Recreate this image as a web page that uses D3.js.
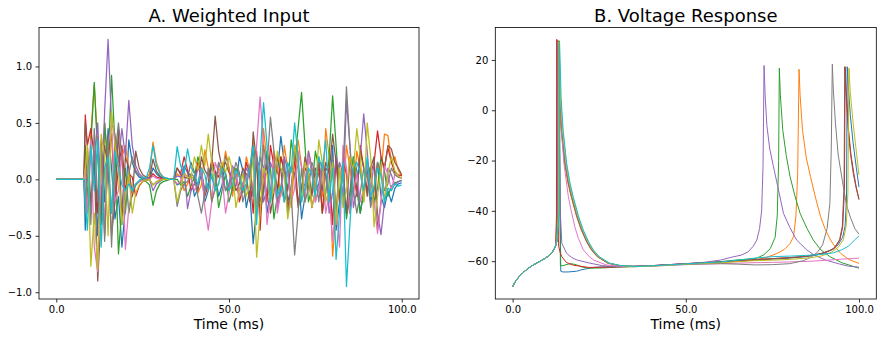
<!DOCTYPE html>
<html><head><meta charset="utf-8">
<script src="https://cdn.jsdelivr.net/npm/d3@7/dist/d3.min.js"></script>
<style>body{margin:0;background:#fff}svg{display:block;font-family:"DejaVu Sans",sans-serif}</style>
</head><body><svg id="c" width="882" height="341"></svg>
<script>
// ---------- DATA ----------
const seriesColors = ["#1f77b4","#ff7f0e","#2ca02c","#d62728","#9467bd","#8c564b","#e377c2","#7f7f7f","#bcbd22","#17becf"];
const titleA = "A. Weighted Input";
const titleB = "B. Voltage Response";
const xLabel = "Time (ms)";
const xTicks = [0, 50, 100];
const xTickLabels = ["0.0", "50.0", "100.0"];
const yTicksA = [-1.0, -0.5, 0.0, 0.5, 1.0];
const yTickLabelsA = ["\u22121.0", "\u22120.5", "0.0", "0.5", "1.0"];
const yTicksB = [-60, -40, -20, 0, 20];
const yTickLabelsB = ["\u221260", "\u221240", "\u221220", "0", "20"];

// Panel A: time grid (ms) and weighted input per series
const inputTime = [0,1,2,3,4,5,6,7,8,8.4,9,10,11,12,13,14,15,16,17,18,19,20,21,22,23,24,25,26,27,28,29,30,31,32,33,34,35,36,37,38,39,40,41,42,43,44,45,46,47,48,49,50,51,52,53,54,55,56,57,58,59,60,61,62,63,64,65,66,67,68,69,70,71,72,73,74,75,76,77,78,79,80,81,82,83,84,85,86,87,88,89,90,91,92,93,94,95,96,97,98,99,100];
const inputBlue = [0,0,0,0,0,0,0,0,0,-0.45,0.1, -0.3,0.25,-0.5,0.3,-0.2,0.45,0.1,-0.35,-0.15,-0.6, -0.25,0.35,0.15,0.06,0.02,0.01,0,0,0.1,0.05, 0.02,0.01,0,0,0,-0.05,-0.03,0.12,0.06,0.03, -0.15,-0.08,0.05,-0.2,-0.1,0.12,0.05,-0.15,-0.05,0.22, 0.1,-0.1,-0.05,0.2,0.08,-0.25,-0.1,-0.57,-0.25,0.2, 0.1,-0.3,-0.1,0.15,0.05,0.38,0.15,-0.2,-0.08,0.25, 0.1,-0.35,-0.15,0.2,0.08,-0.1,-0.04,0.15,0.05,-0.2, 0.3,-0.45,-0.2,0.1,-0.3,-0.12,0.2,0.08,-0.3,-0.1, 0.1,-0.2,-0.08,0.15,-0.15,-0.25,-0.1,-0.2,-0.08,-0.04,-0.03];
const inputOrange = [0,0,0,0,0,0,0,0,0,0.2,-0.3, 0.4,0.84,0.3,-0.4,0.5,0.1,-0.3,0.35,0.15,0.2, 0.3,0.1,-0.15,-0.05,-0.02,0,0,0.05,0.33,0.15, 0.06,0.02,0.01,0,0,0.05,0.02,-0.1,-0.04,0.02, 0.01,-0.12,-0.05,0.26,0.1,-0.2,-0.08,0.1,0.04,0.25, 0.1,-0.15,0.05,0.02,-0.1,0.2,0.08,0.35,-0.3,-0.1, 0.45,0.15,-0.2,0.25,0.1,-0.15,0.3,0.1,-0.25,0.15, 0.35,0.12,-0.2,0.25,0.1,-0.1,0.2,-0.15,0.45,0.2, -0.68,-0.3,0.1,-0.2,0.3,0.1,-0.15,0.25,0.1,-0.2, 0.15,0.05,-0.25,0.15,0.05,0.4,0.39,0.15,0.2,0.08,0.03];
const inputGreen = [0,0,0,0,0,0,0,0,0,0.3,-0.2, 0.3,0.86,0.2,-0.4,0.5,0.1,0.92,0.3,-0.66,-0.25, 0.1,-0.3,-0.12,-0.05,-0.02,0,-0.02,-0.05,-0.23,-0.1, -0.04,-0.02,-0.01,0,0,0,-0.05,-0.02,-0.15,-0.06, 0.02,0.2,0.08,-0.1,-0.04,0.15,0.05,-0.25,-0.1,0.05, -0.2,-0.08,0.1,0.04,-0.12,0.05,0.02,0.3,0.1,-0.3, -0.12,0.25,0.1,-0.35,-0.15,0.2,0.08,-0.1,0.35,0.15, 0.45,0.77,0.3,-0.2,-0.08,0.25,0.1,-0.3,-0.12,0.2, 0.74,0.3,-0.15,0.05,-0.35,-0.15,0.2,-0.1,-0.3,-0.12, 0.15,0.05,-0.2,-0.08,0.2,0.08,-0.15,-0.06,-0.03,-0.02,-0.01];
const inputRed = [0,0,0,0,0,0,0,0,0,0.57,0.3, 0.45,0.2,-0.3,0.35,-0.5,0.2,0.4,-0.2,0.1,0.3, -0.1,0.05,0.02,-0.15,-0.06,-0.02,-0.01,0,0.05,0.02, 0.01,0,0,0,0,0.1,0.05,0.2,0.08,-0.1, -0.04,0.15,0.06,-0.15,-0.05,0.18,0.07,0.02,0.12,0.05, -0.1,0.1,0.04,-0.2,-0.08,0.15,0.05,-0.3,0.25,-0.45, 0.1,-0.2,0.3,0.12,-0.1,0.2,0.08,-0.25,-0.1,0.2, -0.2,-0.08,0.1,0.04,-0.25,-0.1,0.15,-0.3,0.1,0.05, -0.4,0.2,-0.2,0.15,0.05,-0.3,0.1,-0.15,0.3,0.1, -0.1,0.05,0.15,0.43,0.2,0.1,0.28,0.15,0.06,0.04,0.03];
const inputPurple = [0,0,0,0,0,0,0,0,0,-0.2,0.15, -0.3,0.2,0.5,-0.2,0.6,1.24,0.5,0.4,0.15,0.45, 0.2,0.7,0.3,0.12,0.05,0.02,0.01,0,-0.1,-0.04, -0.02,0,0,0,0,0.03,0.02,0.1,-0.26,-0.1, -0.04,0.1,0.04,-0.1,-0.04,0.02,-0.08,0.15,0.06,-0.1, -0.04,0.12,0.05,-0.1,-0.04,0.1,0.04,-0.15,0.2,0.08, -0.2,-0.08,0.15,0.06,-0.25,-0.1,0.2,0.08,-0.15,0.3, 0.12,-0.1,-0.04,0.25,0.1,-0.2,-0.08,0.15,0.06,-0.3, -0.12,0.2,0.08,-0.15,0.7,0.3,-0.25,-0.1,0.2,0.58, 0.25,-0.1,0.15,-0.3,-0.49,-0.2,0.1,0.04,-0.05,-0.02,-0.01];
const inputBrown = [0,0,0,0,0,0,0,0,0,0.5,0.3, -0.2,0.15,-0.9,-0.3,0.3,0.1,-0.5,-0.2,0.45,-0.4, 0.2,0.1,-0.15,0.25,0.1,0.04,0.02,0.01,0.18,0.07, 0.03,0.01,0,0,0,0.1,0.04,0.02,0.01,0.15, 0.06,-0.1,0.2,0.08,0.03,0.15,0.56,0.25,0.1,0.15, 0.06,0.02,-0.1,-0.04,0.1,0.04,-0.2,0.42,0.15,-0.2, -0.08,0.15,-0.3,-0.12,0.2,0.08,-0.2,-0.08,0.12,0.05, -0.25,-0.1,0.2,0.08,-0.15,0.1,0.04,-0.1,0.15,0.06, 0.4,0.15,-0.2,0.1,-0.3,0.2,0.08,-0.1,0.25,0.1, -0.15,0.1,0.2,-0.45,-0.2,0.1,0.3,0.27,0.15,0.1,0.04];
const inputPink = [0,0,0,0,0,0,0,0,0,0.1,-0.3, 0.35,-0.6,-0.82,0.2,-0.4,0.3,0.5,-0.2,-0.1,0.25, -0.62,-0.25,-0.1,-0.04,-0.02,-0.01,0,0,0.03,0.01, 0,0,0,0,0,-0.04,-0.02,0.06,0.02,0.01, -0.1,-0.05,0.1,-0.25,-0.45,-0.2,0.15,0.06,0.02,-0.3, -0.12,0.1,0.04,-0.15,-0.06,0.02,0.1,-0.1,0.3,0.73, 0.3,-0.4,-0.15,0.2,-0.3,-0.12,0.1,0.04,-0.2,-0.08, 0.25,0.1,-0.15,0.2,0.08,-0.2,-0.08,0.1,-0.3,-0.12, -0.55,-0.2,-0.6,0.3,0.1,-0.3,-0.12,0.05,-0.2,-0.08, 0.15,-0.1,-0.2,-0.48,-0.2,0.12,0.05,-0.1,0.04,0.02,0.01];
const inputGray = [0,0,0,0,0,0,0,0,0,-0.3,0.2, -0.4,0.45,-0.2,0.3,-0.55,0.35,-0.6,0.2,0.5,0.2, -0.3,0.05,0.2,0.08,0.03,0.01,0,0,-0.05,-0.02, -0.01,0,0,0,0,-0.24,-0.1,-0.04,-0.02,0.05, 0.02,-0.15,-0.3,-0.12,0.1,-0.2,-0.08,0.15,0.06,-0.1, -0.04,0.02,0.15,0.06,-0.2,-0.08,0.12,-0.15,0.2,-0.1, 0.3,0.12,0.55,0.25,-0.2,-0.08,0.15,-0.3,-0.12,-0.67, -0.3,0.1,-0.2,-0.08,0.15,0.06,-0.2,0.1,0.04,-0.15, 0.2,-0.3,0.15,0.05,0.82,0.3,-0.1,-0.3,-0.12,0.1, 0.04,-0.25,-0.1,0.15,0.06,-0.1,-0.04,0.1,0.04,0.02,0.01];
const inputOlive = [0,0,0,0,0,0,0,0,0,0.1,0.3, -0.77,-0.3,-0.8,0.4,0.2,-0.5,0.6,0.3,0.1,-0.4, -0.15,0.05,-0.3,-0.12,-0.05,-0.02,-0.01,0,-0.05,-0.02, -0.01,0,0,0,0,-0.2,-0.08,0.05,0.02,0.01, 0.2,0.08,0.3,0.12,0.4,0.15,-0.1,-0.04,0.15,0.06, 0.2,0.08,-0.25,-0.1,0.05,-0.15,-0.06,0.2,-0.69,-0.3, 0.1,0.04,-0.2,-0.08,0.25,0.1,0.04,-0.35,-0.15,0.3, 0.12,-0.2,0.15,0.06,-0.25,-0.1,0.35,0.15,-0.2,-0.08, 0.15,-0.4,0.1,-0.25,-0.1,0.2,0.08,0.45,0.2,-0.2, 0.5,0.2,-0.42,-0.15,0.1,-0.2,0.05,0.2,0.08,0.03,0.01];
const inputCyan = [0,0,0,0,0,0,0,0,0,-0.2,-0.45, 0.3,-0.1,0.35,-0.6,0.1,0.2,-0.3,0.25,0.1,-0.05, -0.1,-0.04,-0.1,-0.04,-0.01,0.02,0.01,0.1,0.3,0.12, 0.05,0.02,0.01,0,0,0.29,0.12,0.05,0.27,0.11, 0.05,-0.05,0.1,0.04,-0.1,0.05,-0.1,-0.04,0.1,0.04, -0.1,-0.04,0.08,0.03,-0.1,-0.04,0.1,0.3,-0.4,0.2, 0.68,0.3,-0.2,0.1,-0.15,-0.06,-0.2,0.15,0.06,0.5, 0.2,-0.2,-0.08,0.1,0.04,-0.15,0.2,0.08,0.35,-0.2, 0.1,-0.71,-0.3,0.15,-0.95,-0.4,0.1,0.15,0.05,-0.1, 0.2,-0.15,-0.06,0.1,0.04,-0.2,-0.08,-0.1,-0.04,-0.06,-0.05];

// Panel B: shared rising phase (ms, mV)
const riseTime = [0,0.5,1,1.5,2,3,4,5,6,7,8,9,10,11,11.5,12,12.4];
const riseVolt = [-70.2,-68.8,-67.7,-66.8,-66,-64.6,-63.4,-62.4,-61.5,-60.7,-60,-59.2,-58.3,-57.1,-56.3,-55.2,-54];
// Panel B: per-neuron continuation as [time ms, voltage mV]
const voltBlue = [[12.8,-52],[13.2,-48],[13.35,-35],[13.45,27.5],[13.75,-40],[13.9,-64],[14.5,-64.3],[16,-64.3],[18.5,-64],[20,-63.4],[23.3,-62.5],[27,-62.2],[30,-62.2],[35,-62],[40,-61.8],[45,-61.4],[50,-61],[55,-60.7],[60,-60.4],[65,-60],[70,-59.6],[75,-59.2],[80,-58.8],[85,-58.2],[88,-57.5],[90,-56.8],[92,-55.5],[94,-53.5],[95.3,-50.5],[96,-46],[96.4,-35],[96.6,17.3],[96.9,10],[97.5,-2],[98.3,-13],[99.2,-22.5],[100,-30.5]];
const voltOrange = [[12.5,-51],[12.85,-40],[12.95,27.8],[13.15,18],[13.4,5],[14,-8],[15,-21],[15.9,-28.5],[16.9,-34.4],[18.4,-42],[19.8,-47.6],[21.4,-52.5],[22.7,-55.5],[24.4,-58.2],[27.4,-60.8],[30.5,-61.7],[35,-62.1],[40,-61.9],[45,-61.5],[50,-61.1],[55,-60.8],[60,-60.5],[65,-60.1],[70,-59.5],[73,-58.6],[76.3,-57],[78.5,-55.3],[80.1,-53],[81.1,-50.3],[81.8,-42],[82.3,-25],[82.7,16.3],[83,6],[83.7,-8],[84.8,-19],[86,-26.4],[87.5,-35],[88.9,-42.3],[90.3,-47.5],[91.8,-51.6],[93.2,-54.5],[94.7,-56.9],[97,-59.3],[100,-60.9]];
const voltGreen = [[12.8,-52],[13.2,-47],[13.3,-35],[13.35,27.7],[13.65,-40],[13.8,-61.8],[14.5,-61.8],[16,-61.2],[17,-61],[18.5,-61.5],[20,-62.3],[22,-62.8],[26,-62.7],[30,-62.4],[35,-62.2],[40,-61.9],[45,-61.5],[50,-61.1],[55,-60.7],[60,-60.2],[65,-59.5],[68,-59.2],[70.5,-58.8],[72.5,-57.5],[74.4,-55],[75.8,-50.5],[76.4,-42],[76.8,-20],[77,16.7],[77.3,6],[78,-8],[79,-18],[80.1,-26.4],[81.5,-34],[83,-41],[85,-47],[86.8,-51.6],[89,-55.5],[91.6,-58.2],[95,-60.6],[100,-62.8]];
const voltRed = [[12.5,-51],[12.65,-42],[12.75,28.2],[13.05,-45],[13.3,-54],[13.7,-56.5],[14.2,-58.2],[15.5,-60.5],[17.5,-61.6],[22,-62.5],[30,-62.3],[35,-62.1],[40,-61.8],[45,-61.4],[50,-61],[55,-60.6],[60,-60.3],[65,-59.9],[70,-59.4],[75,-59],[80,-58.6],[85,-58],[89,-57],[91,-56.2],[93,-54.8],[94.5,-51.5],[95.3,-46.5],[95.8,-32],[96,17.3],[96.3,8],[97,-8],[97.7,-17.8],[98.5,-25],[99.2,-30.5],[100,-35.3]];
const voltPurple = [[12.8,-52],[13.1,-47],[13.2,-35],[13.25,27.5],[13.5,-10],[13.75,-40],[14.2,-52.9],[15.6,-56.9],[17,-58.5],[18.5,-59.5],[22.3,-60.8],[26,-61.8],[30,-62.2],[35,-62.1],[40,-61.8],[45,-61.4],[50,-61],[55,-60.5],[60,-59.6],[63,-58.5],[66,-57.6],[68,-56.3],[69.5,-54],[70.5,-51.6],[71.3,-47],[71.9,-40],[72.3,-22],[72.6,17.8],[72.9,6],[73.4,-6],[74.2,-15],[75.3,-22.4],[76.5,-30],[78.2,-41],[80,-46.5],[82,-51.6],[84.9,-55.5],[87,-57.5],[90.2,-59.5],[94,-61],[97,-62],[100,-62.4]];
const voltBrown = [[12.6,-51],[12.95,-40],[13.05,27.6],[13.25,18],[13.5,5],[14.1,-8],[15.1,-21],[16,-28.5],[17,-34.4],[18.5,-42],[19.9,-47.6],[21.5,-52.5],[22.8,-55.5],[24.5,-58.2],[27.5,-60.8],[30.6,-61.7],[35,-62.1],[40,-61.9],[45,-61.5],[50,-61.1],[55,-60.7],[60,-60.3],[65,-59.8],[70,-59.4],[75,-59],[80,-58.6],[85,-58],[89,-57],[91,-56],[92.6,-55.3],[94.4,-51.5],[95.2,-46],[95.7,-30],[95.9,17.3],[96.2,8],[96.9,-8],[97.6,-18],[98.4,-25.5],[99.2,-31],[100,-35.6]];
const voltPink = [[12.8,-52],[13.05,-47],[13.15,-35],[13.2,27.3],[13.5,12],[13.8,0],[14.1,-8],[14.8,-21],[16.1,-34.4],[17,-40.5],[18,-46.5],[19,-51],[20.4,-55.5],[22,-58],[23.3,-59.5],[27,-61.5],[31,-62],[35,-62.2],[40,-62],[45,-61.7],[50,-61.4],[55,-61.2],[60,-61],[65,-60.8],[70,-60.6],[75,-60.5],[80,-60.3],[85,-60.1],[90,-59.7],[95,-59.2],[100,-58.8]];
const voltGray = [[12.7,-51],[13.05,-40],[13.15,27.5],[13.35,18],[13.6,5],[14.2,-8],[15.2,-21],[16.1,-28.5],[17.1,-34.4],[18.6,-42],[20,-47.6],[21.6,-52.5],[22.9,-55.5],[24.6,-58.2],[27.6,-60.8],[30.7,-61.7],[35,-62.1],[40,-61.9],[45,-61.6],[50,-61.3],[55,-61.1],[60,-61],[65,-61.2],[70,-61.5],[75,-61.4],[80,-61],[84,-59.8],[86,-58.5],[88,-56.5],[89.5,-53.5],[90.8,-47],[91.6,-37],[92,-15],[92.3,18.3],[92.6,8],[93.2,-5],[94,-17.8],[95.2,-28],[96.4,-37.7],[97.5,-42.5],[98.8,-47],[100,-49.3]];
const voltOlive = [[12.8,-51],[13.3,-40],[13.4,27.2],[13.6,18],[13.85,5],[14.45,-8],[15.45,-21],[16.35,-28.5],[17.35,-34.4],[18.85,-42],[20.25,-47.6],[21.85,-52.5],[23.15,-55.5],[24.85,-58.2],[27.85,-60.8],[30.9,-61.7],[35,-62.2],[40,-62],[45,-61.6],[50,-61.2],[55,-60.9],[60,-60.6],[65,-60.2],[70,-59.8],[75,-59.6],[80,-59.3],[85,-58.8],[89,-58],[92,-56.5],[94,-54.5],[95.5,-51.5],[96.3,-46],[96.8,-33],[97.1,16.7],[97.5,7],[98.3,-5],[99.2,-16],[100,-25.7]];
const voltCyan = [[12.8,-51],[13.45,-40],[13.55,26.7],[13.75,18],[14,5],[14.6,-8],[15.6,-21],[16.5,-28.5],[17.5,-34.4],[19,-42],[20.4,-47.6],[22,-52.5],[23.3,-55.5],[25,-58.2],[28,-60.8],[31,-61.7],[35,-62.1],[40,-61.9],[45,-61.5],[50,-61.1],[55,-60.7],[60,-60.3],[65,-59.6],[70,-58.8],[75,-58.2],[80,-58],[85,-57.7],[90,-57.2],[92.6,-56.7],[95,-55.5],[97,-54],[98.8,-51.5],[100,-50]];

const inputSeries = [inputBlue,inputOrange,inputGreen,inputRed,inputPurple,inputBrown,inputPink,inputGray,inputOlive,inputCyan];
const voltSeries = [voltBlue,voltOrange,voltGreen,voltRed,voltPurple,voltBrown,voltPink,voltGray,voltOlive,voltCyan];

// ---------- DRAW ----------
const svg = d3.select("#c");
const panels = [
  {left:39, right:419, top:27.5, bottom:299, xd:[-5,105], yd:[-1.06,1.345], title:titleA, yt:yTicksA, ytl:yTickLabelsA},
  {left:495.3, right:876.3, top:27.5, bottom:299, xd:[-5,105], yd:[-75.05,32.9], title:titleB, yt:yTicksB, ytl:yTickLabelsB}
];

function drawAxes(p) {
  const x = d3.scaleLinear().domain(p.xd).range([p.left, p.right]);
  const y = d3.scaleLinear().domain(p.yd).range([p.bottom, p.top]);
  const gx = svg.append("g").attr("transform", `translate(0,${p.bottom})`)
    .call(d3.axisBottom(x).tickValues(xTicks).tickFormat((d,i)=>xTickLabels[i]).tickSize(3.5).tickPadding(3.5).tickSizeOuter(0));
  const gy = svg.append("g").attr("transform", `translate(${p.left},0)`)
    .call(d3.axisLeft(y).tickValues(p.yt).tickFormat((d,i)=>p.ytl[i]).tickSize(3.5).tickPadding(3.5).tickSizeOuter(0));
  [gx, gy].forEach(g => {
    g.select(".domain").remove();
    g.selectAll(".tick line").attr("stroke", "#000").attr("stroke-width", 0.8);
    g.selectAll(".tick text").attr("fill", "#000").style("font-size", "10px").style("font-family", "DejaVu Sans");
  });
  svg.append("text").attr("x", (p.left + p.right) / 2).attr("y", 21.5)
    .attr("text-anchor", "middle").style("font-size", "18px").attr("fill", "#000").text(p.title);
  svg.append("text").attr("x", (p.left + p.right) / 2).attr("y", 329)
    .attr("text-anchor", "middle").style("font-size", "14px").attr("fill", "#000").text(xLabel);
  return {x, y};
}

// Panel A
const a = drawAxes(panels[0]);
const lineA = d3.line().x(d => a.x(d[0])).y(d => a.y(d[1]));
inputSeries.forEach((vals, i) => {
  const pts = vals.map((v, k) => [inputTime[k], v]);
  svg.append("path").datum(pts).attr("d", lineA).attr("fill", "none")
    .attr("stroke", seriesColors[i]).attr("stroke-width", 1.25).attr("stroke-linejoin", "round");
});

// Panel B
const b = drawAxes(panels[1]);
const lineB = d3.line().x(d => b.x(d[0])).y(d => b.y(d[1]));
const risePts = riseTime.map((t, k) => [t, riseVolt[k]]);
voltSeries.forEach((vals, i) => {
  const pts = risePts.concat(vals);
  svg.append("path").datum(pts).attr("d", lineB).attr("fill", "none")
    .attr("stroke", seriesColors[i]).attr("stroke-width", 1).attr("stroke-linejoin", "round");
});

// frames
panels.forEach(p => {
  svg.append("rect").attr("x", p.left).attr("y", p.top)
    .attr("width", p.right - p.left).attr("height", p.bottom - p.top)
    .attr("fill", "none").attr("stroke", "#000").attr("stroke-width", 0.8);
});
</script></body></html>
